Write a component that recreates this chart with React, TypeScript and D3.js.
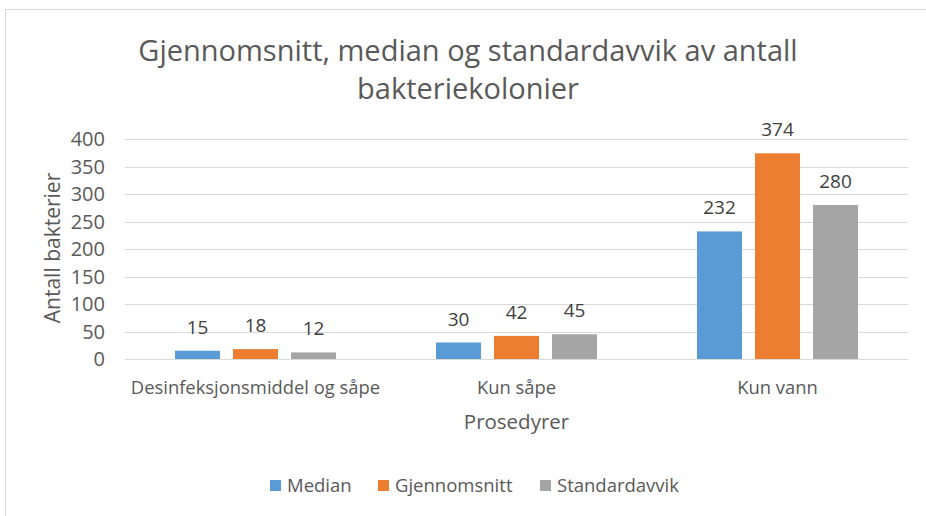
import React, { useRef, useEffect } from 'react';
import * as d3 from 'd3';

const categories = ['Desinfeksjonsmiddel og såpe', 'Kun såpe', 'Kun vann'];
const seriesNames = ['Median', 'Gjennomsnitt', 'Standardavvik'];
const medianValues = [15, 30, 232];
const meanValues = [18, 42, 374];
const stdValues = [12, 45, 280];
const yTicks = [0, 50, 100, 150, 200, 250, 300, 350, 400];
const colors = ['#5b9bd5', '#ed7d31', '#a5a5a5'];

const FONT = '"Open Sans", sans-serif';
const TEXT = '#595959';

const App = () => {
  const svgRef = useRef<SVGSVGElement>(null);

  useEffect(() => {
    const width = 926;
    const height = 516;
    const margin = { top: 139, right: 18, bottom: 157, left: 125 };
    const innerWidth = width - margin.left - margin.right;
    const innerHeight = height - margin.top - margin.bottom;

    const svg = d3.select(svgRef.current);
    svg.selectAll('*').remove();

    // chart border (only top/left are visible in the picture)
    svg.append('rect')
      .attr('x', 5.5)
      .attr('y', 9.5)
      .attr('width', 940)
      .attr('height', 540)
      .attr('fill', 'white')
      .attr('stroke', '#d9d9d9');

    // title in two lines
    const title = svg.append('text')
      .attr('x', 468)
      .attr('y', 61)
      .attr('text-anchor', 'middle')
      .attr('fill', TEXT)
      .style('font-family', FONT)
      .style('font-size', '29px');
    title.append('tspan').attr('x', 468).text('Gjennomsnitt, median og standardavvik av antall');
    title.append('tspan').attr('x', 468).attr('dy', 38).text('bakteriekolonier');

    const g = svg.append('g').attr('transform', `translate(${margin.left},${margin.top})`);

    const data = categories.map((c, i) => ({
      category: c,
      values: [medianValues[i], meanValues[i], stdValues[i]]
    }));

    const x0 = d3.scaleBand().domain(categories).range([0, innerWidth]);
    const x1 = d3.scaleBand()
      .domain(seriesNames)
      .range([0, x0.bandwidth()])
      .paddingInner(0.224)
      .paddingOuter(0.862);
    const y = d3.scaleLinear().domain([0, 400]).range([innerHeight, 0]);

    // gridlines
    g.append('g')
      .selectAll('line')
      .data(yTicks)
      .enter()
      .append('line')
      .attr('x1', 0)
      .attr('x2', innerWidth)
      .attr('y1', d => Math.round(y(d)) + 0.5)
      .attr('y2', d => Math.round(y(d)) + 0.5)
      .attr('stroke', '#d9d9d9')
      .attr('stroke-width', 1);

    // y tick labels
    g.append('g')
      .selectAll('text')
      .data(yTicks)
      .enter()
      .append('text')
      .attr('x', -20)
      .attr('y', d => y(d))
      .attr('dy', '0.35em')
      .attr('text-anchor', 'end')
      .attr('fill', TEXT)
      .style('font-family', FONT)
      .style('font-size', '20px')
      .text(d => d);

    // bars
    const groups = g.selectAll('.cat')
      .data(data)
      .enter()
      .append('g')
      .attr('class', 'cat')
      .attr('transform', d => `translate(${x0(d.category)},0)`);

    groups.selectAll('rect')
      .data(d => d.values.map((v, i) => ({ name: seriesNames[i], value: v, i })))
      .enter()
      .append('rect')
      .attr('x', d => x1(d.name)!)
      .attr('width', x1.bandwidth())
      .attr('y', d => y(d.value))
      .attr('height', d => innerHeight - y(d.value))
      .attr('fill', d => colors[d.i]);

    // data labels
    groups.selectAll('text')
      .data(d => d.values.map((v, i) => ({ name: seriesNames[i], value: v })))
      .enter()
      .append('text')
      .attr('x', d => x1(d.name)! + x1.bandwidth() / 2)
      .attr('y', d => y(d.value) - 17)
      .attr('text-anchor', 'middle')
      .attr('fill', '#404040')
      .style('font-family', FONT)
      .style('font-size', '19px')
      .text(d => d.value);

    // category labels
    g.append('g')
      .selectAll('text')
      .data(categories)
      .enter()
      .append('text')
      .attr('x', d => x0(d)! + x0.bandwidth() / 2)
      .attr('y', innerHeight + 35)
      .attr('text-anchor', 'middle')
      .attr('fill', TEXT)
      .style('font-family', FONT)
      .style('font-size', '18.4px')
      .text(d => d);

    // axis titles
    g.append('text')
      .attr('x', innerWidth / 2)
      .attr('y', innerHeight + 70)
      .attr('text-anchor', 'middle')
      .attr('fill', TEXT)
      .style('font-family', FONT)
      .style('font-size', '20.5px')
      .text('Prosedyrer');

    svg.append('text')
      .attr('transform', `translate(60,248) rotate(-90)`)
      .attr('text-anchor', 'middle')
      .attr('fill', TEXT)
      .style('font-family', FONT)
      .style('font-size', '21px')
      .text('Antall bakterier');

    // legend
    const legendX = [270, 378, 540];
    const legend = svg.append('g');
    const item = legend.selectAll('g')
      .data(seriesNames)
      .enter()
      .append('g')
      .attr('transform', (d, i) => `translate(${legendX[i]},480)`);
    item.append('rect')
      .attr('width', 11)
      .attr('height', 11)
      .attr('fill', (d, i) => colors[i]);
    item.append('text')
      .attr('x', 17)
      .attr('y', 12)
      .attr('fill', TEXT)
      .style('font-family', FONT)
      .style('font-size', '18.5px')
      .text(d => d);
  }, []);

  return (
    <svg
      ref={svgRef}
      width={926}
      height={516}
      style={{ position: 'absolute', left: 0, top: 0, background: 'white' }}
    />
  );
};

export default App;
